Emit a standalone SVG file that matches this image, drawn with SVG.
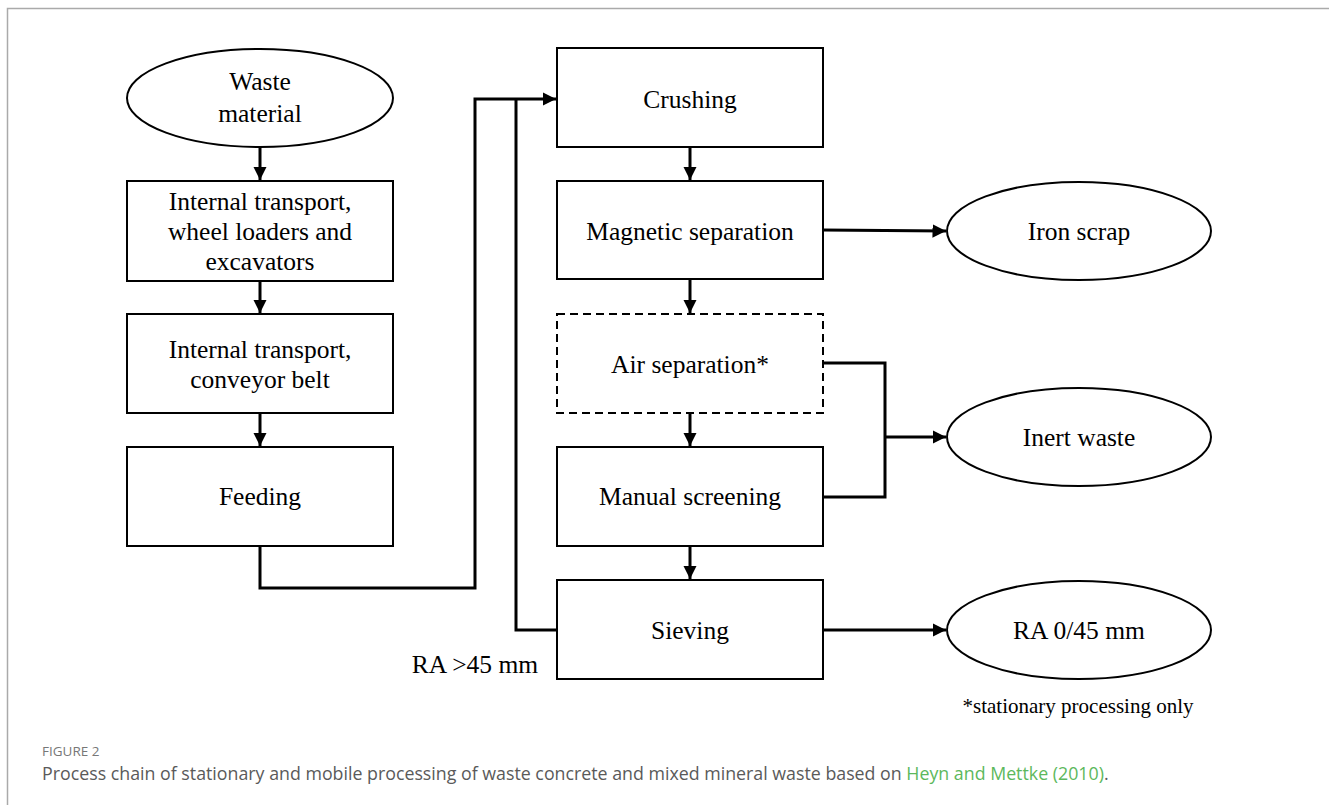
<svg xmlns="http://www.w3.org/2000/svg" width="1329" height="805" viewBox="0 0 1329 805">
<style>
.box{fill:#fff;stroke:#000;stroke-width:2}
.dash{fill:#fff;stroke:#000;stroke-width:2;stroke-dasharray:8 5}
.t{font-family:"Liberation Serif","Times New Roman",serif;font-size:25.5px;fill:#000;text-anchor:middle}
.c{fill:none;stroke:#000;stroke-width:3}
.cap{font-family:"Open Sans","Noto Sans",sans-serif;fill:#5a5a5a}
</style>
<defs>
<marker id="ah" viewBox="0 0 10 10" refX="10" refY="5" markerWidth="4.5" markerHeight="4.5" markerUnits="strokeWidth" orient="auto">
<path d="M0,0 L10,5 L0,10 Z" fill="#000"/>
</marker>
</defs>
<rect width="1329" height="805" fill="#fff"/>
<path d="M7.5,805 V8.5 H1329" fill="none" stroke="#aaa" stroke-width="1.5"/>

<g id="connectors">
<line class="c" x1="260" y1="148" x2="260" y2="180" marker-end="url(#ah)"/>
<line class="c" x1="260" y1="281" x2="260" y2="313" marker-end="url(#ah)"/>
<line class="c" x1="260" y1="413" x2="260" y2="446" marker-end="url(#ah)"/>
<polyline class="c" points="260,546 260,588 475,588 475,99 556,99" marker-end="url(#ah)"/>
<polyline class="c" points="557,630 516,630 516,99"/>
<line class="c" x1="690" y1="147" x2="690" y2="180" marker-end="url(#ah)"/>
<line class="c" x1="690" y1="279" x2="690" y2="313" marker-end="url(#ah)"/>
<line class="c" x1="690" y1="413" x2="690" y2="446" marker-end="url(#ah)"/>
<line class="c" x1="690" y1="546" x2="690" y2="579" marker-end="url(#ah)"/>
<line class="c" x1="823" y1="230" x2="946" y2="231" marker-end="url(#ah)"/>
<polyline class="c" points="823,363 885,363 885,497 823,497"/>
<line class="c" x1="885" y1="437" x2="946" y2="437" marker-end="url(#ah)"/>
<line class="c" x1="823" y1="630" x2="946" y2="630" marker-end="url(#ah)"/>
</g>

<g id="waste-material">
<ellipse class="box" cx="260" cy="98" rx="133" ry="49"/>
<text class="t" x="260" y="90">Waste</text>
<text class="t" x="260" y="122">material</text>
</g>
<g id="transport-loaders">
<rect class="box" x="127" y="181" width="266" height="100"/>
<text class="t" x="260" y="210">Internal transport,</text>
<text class="t" x="260" y="240">wheel loaders and</text>
<text class="t" x="260" y="270">excavators</text>
</g>
<g id="transport-belt">
<rect class="box" x="127" y="314" width="266" height="99"/>
<text class="t" x="260" y="358">Internal transport,</text>
<text class="t" x="260" y="388">conveyor belt</text>
</g>
<g id="feeding">
<rect class="box" x="127" y="447" width="266" height="99"/>
<text class="t" x="260" y="505">Feeding</text>
</g>
<g id="crushing">
<rect class="box" x="557" y="48" width="266" height="99"/>
<text class="t" x="690" y="108">Crushing</text>
</g>
<g id="magnetic">
<rect class="box" x="557" y="181" width="266" height="98"/>
<text class="t" x="690" y="240">Magnetic separation</text>
</g>
<g id="air">
<rect class="dash" x="557" y="314" width="266" height="99"/>
<text class="t" x="690" y="373">Air separation*</text>
</g>
<g id="manual">
<rect class="box" x="557" y="447" width="266" height="99"/>
<text class="t" x="690" y="505">Manual screening</text>
</g>
<g id="sieving">
<rect class="box" x="557" y="580" width="266" height="99"/>
<text class="t" x="690" y="639">Sieving</text>
</g>
<g id="iron-scrap">
<ellipse class="box" cx="1079" cy="231" rx="132" ry="49"/>
<text class="t" x="1079" y="240">Iron scrap</text>
</g>
<g id="inert-waste">
<ellipse class="box" cx="1079" cy="437" rx="132" ry="49"/>
<text class="t" x="1079" y="446">Inert waste</text>
</g>
<g id="ra-045">
<ellipse class="box" cx="1079" cy="630" rx="132" ry="49"/>
<text class="t" x="1079" y="639">RA 0/45 mm</text>
</g>
<text class="t" x="475" y="673">RA &gt;45 mm</text>
<text x="1078" y="713" style="font-family:'Liberation Serif','Times New Roman',serif;font-size:21px;text-anchor:middle">*stationary processing only</text>
<text class="cap" x="42" y="756" style="font-size:13.5px;fill:#777">FIGURE 2</text>
<text class="cap" x="42" y="780" style="font-size:17.8px">Process chain of stationary and mobile processing of waste concrete and mixed mineral waste based on <tspan fill="#5cb85c">Heyn and Mettke (2010)</tspan>.</text>
</svg>
